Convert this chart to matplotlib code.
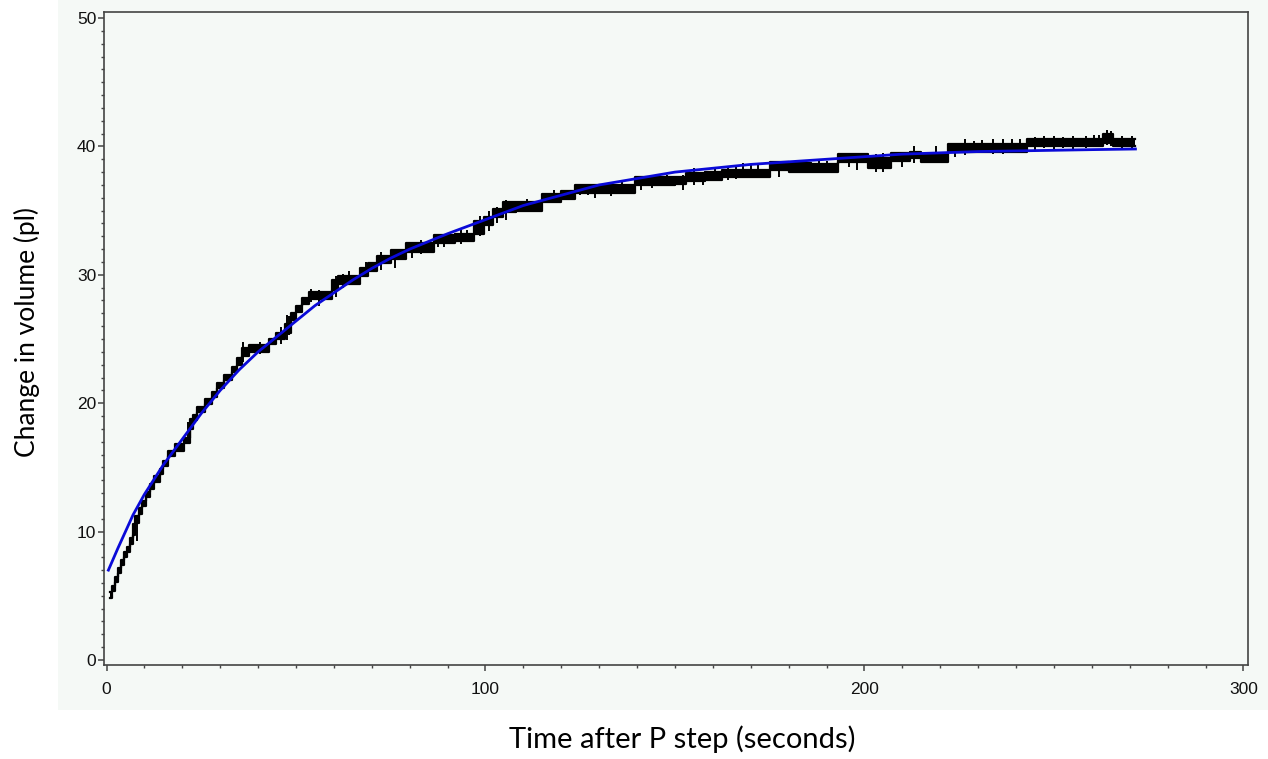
from matplotlib import pyplot as plt
from matplotlib.patches import Rectangle

# fitted curve (blue)
fit_t = [0.5, 3, 5, 7, 10, 15, 20, 25, 30, 35, 40, 45, 50, 55, 60, 65, 70, 75, 80,
         90, 100, 110, 120, 130, 140, 150, 160, 170, 180, 190, 200, 210, 220, 230,
         240, 250, 260, 271.5]
fit_v = [7.0, 8.7, 10.0, 11.3, 12.9, 15.2, 17.2, 19.2, 21.0, 22.6, 24.0, 25.2, 26.4,
         27.6, 28.6, 29.6, 30.5, 31.3, 32.0, 33.2, 34.3, 35.4, 36.2, 37.0, 37.5, 38.0,
         38.3, 38.6, 38.8, 39.0, 39.2, 39.4, 39.5, 39.6, 39.65, 39.7, 39.75, 39.8]

# measured trace: step start times with lower / upper edge of the noisy band
trace_t = [0.8, 1.5, 2.2, 3.0, 3.8, 4.5, 5.5, 6.3, 7.0, 7.6, 8.5, 9.3, 10.5, 11.5, 12.5,
           14.0, 15.0, 16.2, 18.0, 20.5, 22.0, 22.8, 24.0, 26.0, 27.8, 29.2, 31.0, 33.0,
           34.5, 35.8, 37.5, 43.0, 44.8, 47.0, 48.8, 50.0, 51.5, 53.5, 59.5, 61.0, 67.0,
           69.0, 71.5, 75.0, 79.0, 86.5, 92.0, 97.0, 99.5, 102.0, 104.5, 108.0, 115.0,
           120.0, 123.5, 130.0, 139.5, 150.0, 153.0, 158.0, 162.5, 175.0, 180.0, 186.0,
           193.0, 201.0, 207.0, 212.0, 215.0, 222.0, 243.0, 263.0, 265.6, 271.5]
trace_lo = [4.8, 5.4, 6.1, 6.8, 7.4, 8.0, 8.4, 9.0, 9.7, 10.7, 11.4, 12.0, 12.7, 13.3, 13.9,
            14.5, 15.1, 15.9, 16.3, 16.9, 18.0, 18.7, 19.3, 19.9, 20.5, 21.2, 21.8, 22.4,
            23.0, 23.7, 24.0, 24.6, 25.0, 25.5, 26.5, 27.1, 27.7, 28.1, 28.8, 29.3, 29.9,
            30.3, 30.9, 31.2, 31.8, 32.5, 32.6, 33.2, 33.9, 34.5, 34.9, 35.0, 35.7,
            35.9, 36.4, 36.4, 37.0, 37.1, 37.3, 37.4, 37.6, 38.2, 38.0, 38.0,
            38.8, 38.3, 38.9, 39.1, 38.8, 39.6, 40.0, 40.3, 40.0, 40.0]
trace_hi = [5.3, 5.8, 6.5, 7.2, 7.8, 8.4, 8.8, 9.5, 10.6, 11.2, 11.8, 12.4, 13.1, 13.7, 14.3,
            14.9, 15.5, 16.3, 16.8, 17.3, 18.8, 19.1, 19.7, 20.3, 20.9, 21.6, 22.2, 22.8,
            23.5, 24.3, 24.5, 25.0, 25.5, 26.2, 27.0, 27.6, 28.2, 28.7, 29.6, 29.9, 30.5,
            30.9, 31.5, 31.9, 32.5, 33.1, 33.2, 34.2, 34.5, 35.1, 35.7, 35.7, 36.3,
            36.5, 37.0, 37.0, 37.6, 37.6, 37.9, 38.0, 38.2, 38.8, 38.7, 38.6,
            39.4, 39.1, 39.5, 39.6, 39.4, 40.2, 40.6, 41.0, 40.6, 40.6]

# single noise excursions (time, low, high)
spike_t = [8.0, 21.5, 36.0, 46.0, 47.5, 48.2, 56.0, 60.5, 64.0, 68.5, 72.5, 76.0, 80.5,
           89.0, 95.0, 98.5, 101.0, 105.5, 118.0, 129.0, 133.0, 141.0, 152.0, 155.0,
           157.5, 160.5, 168.0, 172.0, 177.5, 190.0, 196.0, 203.0, 210.0, 213.0, 219.0,
           226.5, 234.0, 236.5, 245.0, 250.0, 255.0, 258.5, 264.0, 265.0, 268.0, 270.5,
           40.5, 54.0, 62.5, 83.0, 87.5, 93.5, 103.0, 111.0, 125.0, 127.0, 136.0, 144.0,
           146.5, 148.0, 164.0, 166.0, 170.0, 182.0, 184.5, 188.0, 198.0, 205.0, 217.0,
           224.0, 229.0, 231.0, 239.0, 241.0, 247.5, 252.5, 260.5, 262.0]
spike_lo = [9.3, 17.0, 23.2, 24.6, 24.9, 25.3, 27.6, 28.3, 29.3, 29.8, 30.4, 30.5, 31.3,
            32.2, 32.6, 33.0, 33.4, 34.3, 35.6, 36.0, 36.1, 36.6, 36.6, 37.0,
            37.0, 37.3, 37.8, 37.7, 37.6, 38.0, 38.4, 38.0, 38.4, 38.7, 38.7,
            39.3, 39.4, 39.4, 39.7, 39.8, 39.8, 39.9, 40.1, 40.0, 39.9, 39.9,
            23.8, 27.9, 29.0, 31.6, 32.2, 32.4, 34.0, 34.9, 36.2, 36.2, 36.3, 36.8,
            37.0, 37.0, 37.4, 37.5, 37.7, 37.9, 37.9, 38.0, 38.2, 38.0, 38.8,
            39.2, 39.5, 39.5, 39.6, 39.6, 39.9, 39.9, 40.1, 40.2]
spike_hi = [11.0, 18.5, 24.8, 25.9, 26.9, 26.8, 28.8, 29.9, 30.3, 31.0, 31.8, 31.9, 32.5,
            33.2, 33.5, 34.6, 35.0, 35.8, 36.6, 37.1, 37.0, 37.7, 37.8, 38.3,
            38.0, 38.3, 38.7, 38.6, 38.8, 38.9, 39.5, 39.4, 39.6, 40.0, 40.0,
            40.6, 40.6, 40.6, 40.7, 40.8, 40.8, 40.8, 41.3, 41.2, 40.8, 40.8,
            24.8, 28.9, 30.1, 32.7, 33.0, 33.5, 35.3, 35.9, 37.0, 37.1, 37.2, 37.7,
            37.7, 37.8, 38.3, 38.4, 38.6, 38.8, 38.7, 38.9, 39.4, 39.5, 39.6,
            40.3, 40.4, 40.5, 40.6, 40.6, 40.8, 40.7, 40.9, 40.9]

bg = '#f5f9f6'
fig = plt.figure(figsize=(12.68, 7.59), dpi=100)
fig.patch.set_facecolor('white')
# tinted panel behind the plot
fig.patches.append(Rectangle((58/1268, 49/759), 1 - 58/1268, 710/759, transform=fig.transFigure,
                             facecolor=bg, edgecolor='none', zorder=-5))

ax = fig.add_axes([104/1268, (759-665)/759, (1248-104)/1268, (665-12)/759])
ax.set_zorder(2)
ax.set_facecolor(bg)

ax.fill_between(trace_t, trace_lo, trace_hi, step='post', color='black', lw=0, zorder=2)
ax.step(trace_t, trace_hi, where='post', color='black', lw=1.6, zorder=2)
ax.step(trace_t, trace_lo, where='post', color='black', lw=1.6, zorder=2)
ax.vlines(spike_t, spike_lo, spike_hi, color='black', lw=1.4, zorder=2)
ax.plot(fit_t, fit_v, color='#0a0ad8', lw=2.0, zorder=3)

ax.set_xlim(-0.66, 301.2)
ax.set_ylim(-0.39, 50.47)
ax.set_xticks([0, 100, 200, 300])
ax.set_yticks([0, 10, 20, 30, 40, 50])
ax.set_xticks(range(0, 301, 10), minor=True)
ax.set_yticks(range(0, 51, 1), minor=True)
for s in ax.spines.values():
    s.set_color('#444444')
    s.set_linewidth(1.2)
ax.tick_params(which='major', length=4.5, width=1.1, color='#444444',
               labelsize=12.5, labelcolor='#111111')
ax.tick_params(which='minor', length=2.5, width=1.0, color='#444444')
ax.tick_params(axis='y', pad=1)
ax.tick_params(axis='x', pad=8)
for lab in ax.get_xticklabels() + ax.get_yticklabels():
    lab.set_family('Liberation Sans')

fig.text(27/1268, 1 - 332/759, 'Change in volume (pl)', rotation=90, ha='center', va='center',
         fontsize=19, family='Lato', color='black')
fig.text(682/1268, 1 - 739/759, 'Time after P step (seconds)', ha='center', va='center',
         fontsize=21, family='Lato', color='black')

fig.savefig('out.png', dpi=100, facecolor='white')
